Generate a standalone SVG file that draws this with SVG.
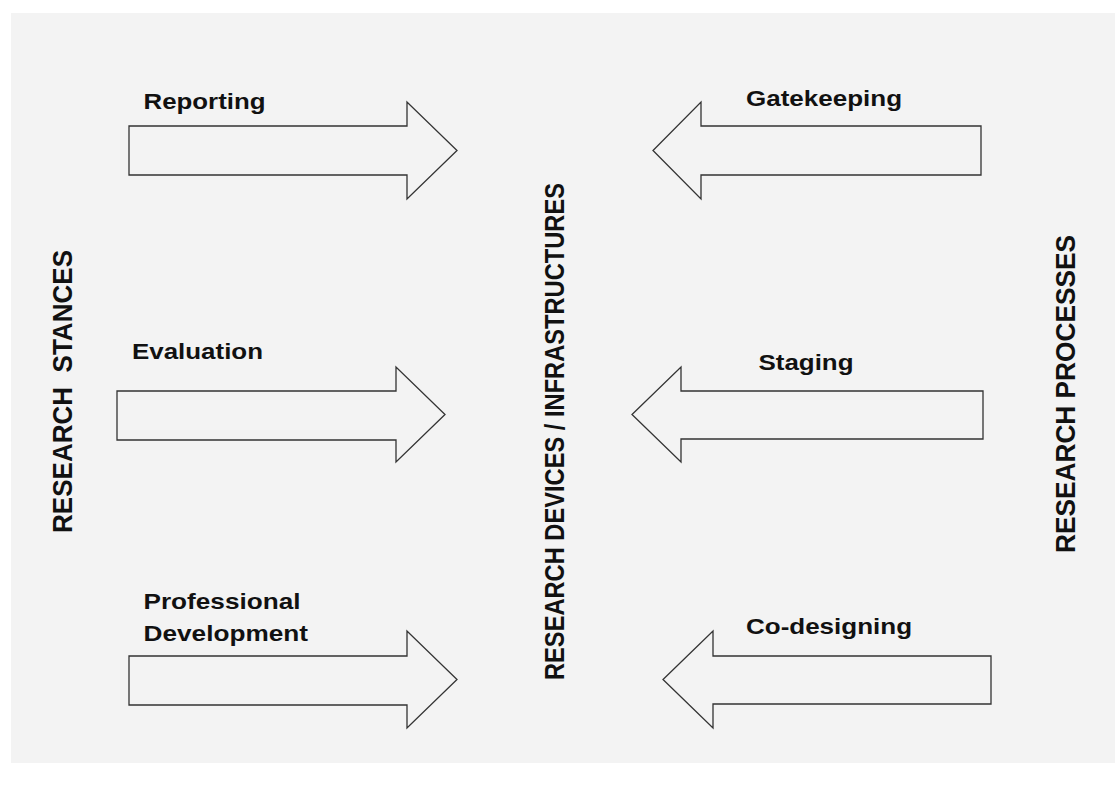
<svg xmlns="http://www.w3.org/2000/svg" width="1115" height="789" viewBox="0 0 1115 789">
  <style>
    .bg { fill: #f3f3f3; }
    .arrow { fill: #f3f3f3; stroke: #333333; stroke-width: 1.3; stroke-linejoin: miter; }
    .lbl { font-family: "Liberation Sans", Arial, sans-serif; font-weight: bold; font-size: 22.3px; fill: #111111; }
    .vlbl { font-family: "Liberation Sans", Arial, sans-serif; font-weight: bold; font-size: 23.4px; fill: #111111; }
  </style>
  <rect x="0" y="0" width="1115" height="789" fill="#ffffff"/>
  <rect class="bg" x="11" y="13" width="1104" height="750"/>

  <g id="research-stances">
    <text class="vlbl" transform="translate(71.5,533) scale(1.175,1) rotate(-90)" textLength="283" lengthAdjust="spacingAndGlyphs" xml:space="preserve">RESEARCH  STANCES</text>
  </g>
  <g id="research-devices">
    <text class="vlbl" transform="translate(563.5,680) scale(1.175,1) rotate(-90)" textLength="497" lengthAdjust="spacingAndGlyphs">RESEARCH DEVICES / INFRASTRUCTURES</text>
  </g>
  <g id="research-processes">
    <text class="vlbl" transform="translate(1074.5,553) scale(1.175,1) rotate(-90)" textLength="318" lengthAdjust="spacingAndGlyphs">RESEARCH PROCESSES</text>
  </g>

  <g id="connectors">
    <g id="reporting">
      <path class="arrow" d="M129,126 H407 V102 L457,150.5 L407,199 V175 H129 Z"/>
      <text class="lbl" transform="translate(143.5,109.3) scale(1.175,1)" textLength="103.8" lengthAdjust="spacingAndGlyphs">Reporting</text>
    </g>
    <g id="evaluation">
      <path class="arrow" d="M117,391 H396 V367 L445,414.5 L396,462 V440 H117 Z"/>
      <text class="lbl" transform="translate(132,359.3) scale(1.175,1)" textLength="111.5" lengthAdjust="spacingAndGlyphs">Evaluation</text>
    </g>
    <g id="professional-development">
      <path class="arrow" d="M129,656 H407 V631 L457,679.5 L407,728 V705 H129 Z"/>
      <text class="lbl" transform="translate(143.5,609.3) scale(1.175,1)" textLength="133.6" lengthAdjust="spacingAndGlyphs">Professional</text>
      <text class="lbl" transform="translate(143.5,640.7) scale(1.175,1)" textLength="140" lengthAdjust="spacingAndGlyphs">Development</text>
    </g>
    <g id="gatekeeping">
      <path class="arrow" d="M981,126 H701 V102 L653,150.5 L701,199 V175 H981 Z"/>
      <text class="lbl" transform="translate(746,106) scale(1.175,1)" textLength="132.8" lengthAdjust="spacingAndGlyphs">Gatekeeping</text>
    </g>
    <g id="staging">
      <path class="arrow" d="M983,391 H681 V367 L632,414.5 L681,462 V439 H983 Z"/>
      <text class="lbl" transform="translate(758.5,370) scale(1.175,1)" textLength="80.9" lengthAdjust="spacingAndGlyphs">Staging</text>
    </g>
    <g id="co-designing">
      <path class="arrow" d="M991,656 H713 V631 L663,679.5 L713,728 V704 H991 Z"/>
      <text class="lbl" transform="translate(746,634.3) scale(1.175,1)" textLength="141.3" lengthAdjust="spacingAndGlyphs">Co-designing</text>
    </g>
  </g>
</svg>
